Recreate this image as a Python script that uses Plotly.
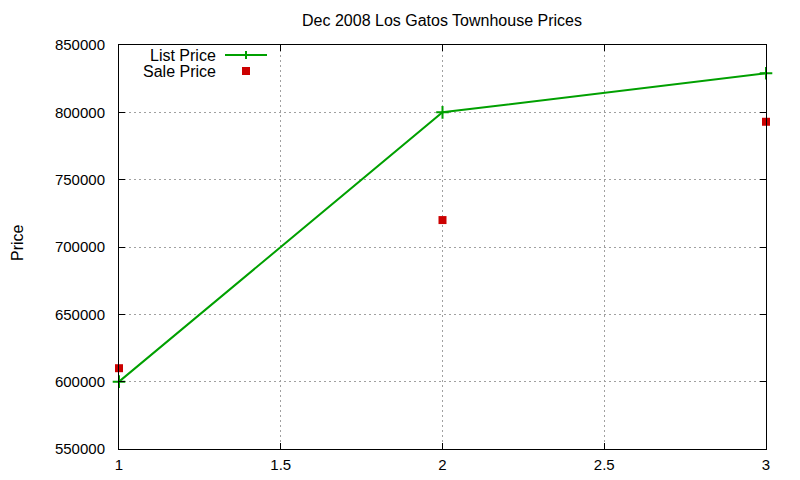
import plotly.graph_objects as go

# Dec 2008 Los Gatos townhouse sales
listing = [1, 2, 3]
list_price = [600000, 800000, 829000]
sale_price = [610000, 720000, 793000]

x_ticks = [1, 1.5, 2, 2.5, 3]
y_ticks = [550000, 600000, 650000, 700000, 750000, 800000, 850000]

green = "#00a000"
red = "#cc0000"

fig = go.Figure()
fig.add_trace(go.Scatter(x=listing, y=list_price, mode="lines+markers", name="List Price",
                         line=dict(color=green, width=2),
                         marker=dict(symbol="cross-thin", size=9, line=dict(color=green, width=2)),
                         cliponaxis=False))
fig.add_trace(go.Scatter(x=listing, y=sale_price, mode="markers", name="Sale Price",
                         marker=dict(symbol="square", size=8, color=red),
                         cliponaxis=False))

axis = dict(showline=True, linecolor="black", linewidth=1, mirror="ticks", ticks="inside",
            ticklen=6, tickcolor="black", showgrid=True, gridcolor="#a0a0a0", griddash="2px,3px",
            gridwidth=1, zeroline=False)
fig.update_xaxes(range=[1, 3], tickvals=x_ticks, ticktext=[f"{v:g}" for v in x_ticks],
                 ticklabelstandoff=2, **axis)
fig.update_yaxes(range=[550000, 850000], tickvals=y_ticks, ticktext=[str(v) for v in y_ticks],
                 ticklabelstandoff=10, **axis)

# gnuplot-like legend: text right aligned, sample to the right (pixel positions of the plot box)
leg_y = [55, 71]
shapes = [
    dict(type="line", xref="paper", yref="paper", x0=(225 - 119) / 647, x1=(267 - 119) / 647,
         y0=1 - (leg_y[0] - 45) / 404, y1=1 - (leg_y[0] - 45) / 404, line=dict(color=green, width=2)),
    dict(type="line", xref="paper", yref="paper", x0=(246 - 119) / 647, x1=(246 - 119) / 647,
         y0=1 - (leg_y[0] - 49) / 404, y1=1 - (leg_y[0] - 41) / 404, line=dict(color=green, width=2)),
    dict(type="rect", xref="paper", yref="paper", x0=(242 - 119) / 647, x1=(250 - 119) / 647,
         y0=1 - (leg_y[1] + 4 - 45) / 404, y1=1 - (leg_y[1] - 4 - 45) / 404,
         fillcolor=red, line=dict(width=0)),
]
annotations = [
    dict(text=name, xref="paper", yref="paper", x=(218 - 119) / 647, y=1 - (yy - 45) / 404,
         xanchor="right", yanchor="middle", showarrow=False, font=dict(size=16, color="black"))
    for name, yy in zip(["List Price", "Sale Price"], leg_y)
]
annotations.append(dict(text="Price", xref="paper", yref="paper", x=-101 / 647, y=0.51,
                        xanchor="center", yanchor="middle", textangle=-90, showarrow=False,
                        font=dict(size=16, color="black")))

fig.update_layout(
    width=800, height=480,
    margin=dict(l=111, r=42, t=37, b=39),
    paper_bgcolor="white", plot_bgcolor="white",
    font=dict(family="Liberation Sans, Arial, sans-serif", size=15, color="black"),
    title=dict(text="Dec 2008 Los Gatos Townhouse Prices", x=434 / 800, xanchor="center",
               y=1 - 12 / 480, yanchor="middle", font=dict(size=16)),
    showlegend=False,
    shapes=shapes,
    annotations=annotations,
)

fig.write_html("out.html")
